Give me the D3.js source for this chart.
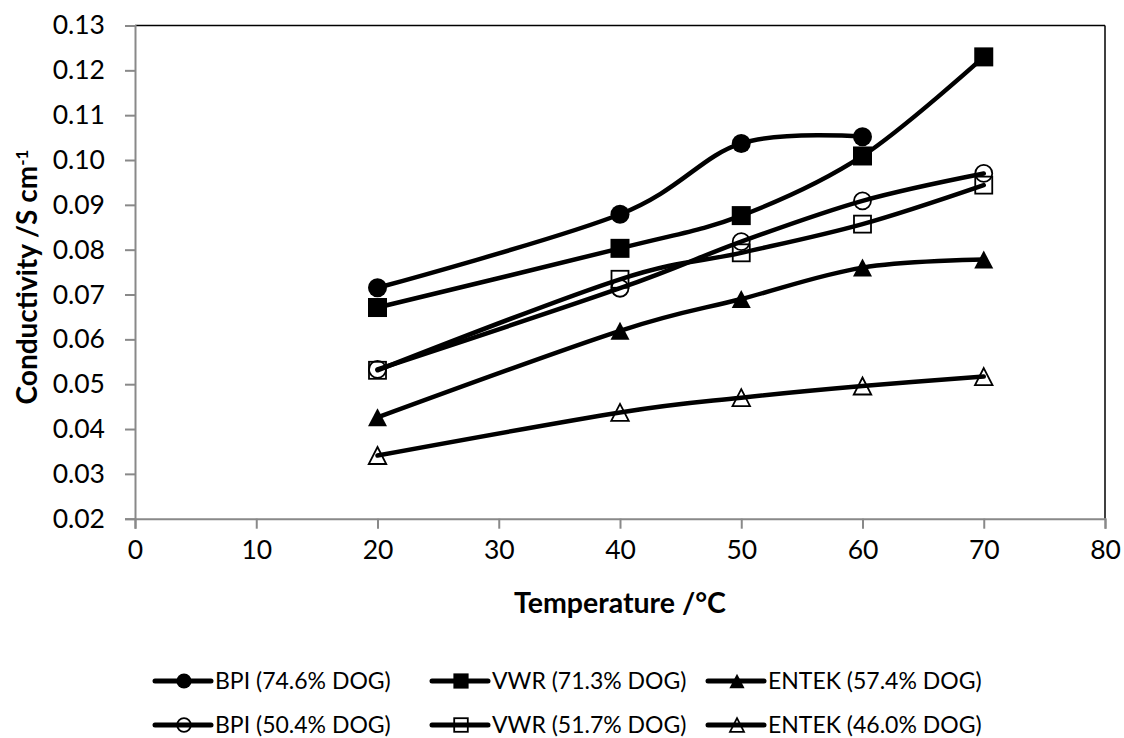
<!DOCTYPE html>
<html>
<head>
<meta charset="utf-8">
<script src="https://cdn.jsdelivr.net/npm/d3@7"></script>
<style>
  html, body { margin: 0; padding: 0; background: #fff; }
  svg { display: block; font-family: Lato, "Open Sans", sans-serif; }
</style>
</head>
<body>
<svg id="chart" width="1124" height="738"></svg>
<script>
// Temperatures (°C) at which conductivity was measured
const temps = [20, 40, 50, 60, 70];

// Conductivity (S cm^-1) per separator / degree of graphitisation
const bpi746   = [0.0715, 0.0879, 0.1037, 0.1052];
const vwr713   = [0.0671, 0.0803, 0.0876, 0.1009, 0.1230];
const entek574 = [0.0426, 0.0619, 0.0690, 0.0760, 0.0778];
const bpi504   = [0.0533, 0.0714, 0.0818, 0.0909, 0.0970];
const vwr517   = [0.0531, 0.0734, 0.0793, 0.0857, 0.0944];
const entek460 = [0.0341, 0.0437, 0.0470, 0.0496, 0.0517];

const seriesNames = [
  "BPI (74.6% DOG)", "VWR (71.3% DOG)", "ENTEK (57.4% DOG)",
  "BPI (50.4% DOG)", "VWR (51.7% DOG)", "ENTEK (46.0% DOG)"
];
const seriesValues = [bpi746, vwr713, entek574, bpi504, vwr517, entek460];
const seriesMarkers = ["circle", "square", "triangle", "circle", "square", "triangle"];
const seriesFilled = [true, true, true, false, false, false];

const xTicks = [0, 10, 20, 30, 40, 50, 60, 70, 80];
const yTicks = [0.02, 0.03, 0.04, 0.05, 0.06, 0.07, 0.08, 0.09, 0.10, 0.11, 0.12, 0.13];

const svg = d3.select("#chart");
const plot = { left: 135, right: 1105, top: 25.5, bottom: 518.7 };

const x = d3.scaleLinear().domain([0, 80]).range([plot.left, plot.right]);
const y = d3.scaleLinear().domain([0.02, 0.13]).range([plot.bottom, plot.top]);

const axisGrey = "#898989";

// Plot frame: black top and right edges
svg.append("line")
  .attr("x1", plot.left).attr("x2", plot.right)
  .attr("y1", plot.top).attr("y2", plot.top)
  .attr("stroke", "#000").attr("stroke-width", 1.5);
svg.append("line")
  .attr("x1", plot.right).attr("x2", plot.right)
  .attr("y1", plot.top).attr("y2", plot.bottom)
  .attr("stroke", "#000").attr("stroke-width", 1.5);

// Axes
const xAxis = svg.append("g")
  .attr("transform", `translate(0,${plot.bottom})`)
  .call(d3.axisBottom(x).tickValues(xTicks).tickSize(10).tickPadding(11)
    .tickFormat(d3.format("d")));
const yAxis = svg.append("g")
  .attr("transform", `translate(${plot.left},0)`)
  .call(d3.axisLeft(y).tickValues(yTicks).tickSize(10).tickPadding(20)
    .tickFormat(d3.format(".2f")));

[xAxis, yAxis].forEach(g => {
  g.select(".domain").attr("stroke", axisGrey).attr("stroke-width", 2);
  g.selectAll(".tick line").attr("stroke", axisGrey).attr("stroke-width", 2);
  g.selectAll(".tick text")
    .attr("fill", "#000")
    .style("font-family", "Lato, 'Open Sans', sans-serif")
    .style("font-size", "26.5px");
});
xAxis.selectAll(".tick text").attr("dy", "0.71em");

// Axis titles
svg.append("text")
  .attr("x", (plot.left + plot.right) / 2)
  .attr("y", 613)
  .attr("text-anchor", "middle")
  .style("font-size", "28.5px").style("font-weight", "bold")
  .text("Temperature /°C");

const yTitle = svg.append("text")
  .attr("transform", "translate(37,277) rotate(-90)")
  .attr("text-anchor", "middle")
  .style("font-size", "28px").style("font-weight", "bold");
yTitle.append("tspan").text("Conductivity /S cm");
yTitle.append("tspan").attr("dy", "-0.55em").style("font-size", "17px").text("-1");

// Marker drawing (open markers are outlines only)
function drawMarker(g, type, filled, cx, cy, big) {
  const k = big ? 1 : 0.8;
  const fill = filled ? "#000" : "none";
  const sw = filled ? 0 : 1.8;
  if (type === "circle") {
    g.append("circle").attr("cx", cx).attr("cy", cy)
      .attr("r", (filled ? 9.5 : 8.5) * k)
      .attr("fill", fill).attr("stroke", "#000").attr("stroke-width", sw);
  } else if (type === "square") {
    const s = (filled ? 19 : 17) * k;
    g.append("rect").attr("x", cx - s / 2).attr("y", cy - s / 2)
      .attr("width", s).attr("height", s)
      .attr("fill", fill).attr("stroke", "#000").attr("stroke-width", sw);
  } else {
    const w = (filled ? 19 : 17.5) * k, h = (filled ? 18 : 17) * k;
    g.append("path")
      .attr("d", `M${cx},${cy - h / 2}L${cx + w / 2},${cy + h / 2}L${cx - w / 2},${cy + h / 2}Z`)
      .attr("fill", fill).attr("stroke", "#000").attr("stroke-width", sw)
      .attr("stroke-linejoin", "miter");
  }
}

// Smoothed series lines with markers
const line = d3.line()
  .x(d => x(d[0]))
  .y(d => y(d[1]))
  .curve(d3.curveCardinal.tension(0));

seriesValues.forEach((vals, i) => {
  const pts = vals.map((v, j) => [temps[j], v]);
  const g = svg.append("g");
  g.append("path")
    .attr("d", line(pts))
    .attr("fill", "none")
    .attr("stroke", "#000")
    .attr("stroke-width", 4.5)
    .attr("stroke-linecap", "round")
    .attr("stroke-linejoin", "round");
  pts.forEach(p => drawMarker(g, seriesMarkers[i], seriesFilled[i], x(p[0]), y(p[1]), true));
});

// Legend: three columns, two rows
const legendCols = [153, 430, 706];
const legendRows = [681, 725];
seriesNames.forEach((name, i) => {
  const cx = legendCols[i % 3];
  const cy = legendRows[Math.floor(i / 3)];
  const g = svg.append("g");
  g.append("line")
    .attr("x1", cx + 2).attr("x2", cx + 58)
    .attr("y1", cy).attr("y2", cy)
    .attr("stroke", "#000").attr("stroke-width", 5)
    .attr("stroke-linecap", "round");
  drawMarker(g, seriesMarkers[i], seriesFilled[i], cx + 31, cy, false);
  g.append("text")
    .attr("x", cx + 62).attr("y", cy)
    .attr("dy", "0.35em")
    .style("font-size", "23px")
    .text(name);
});
</script>
</body>
</html>
